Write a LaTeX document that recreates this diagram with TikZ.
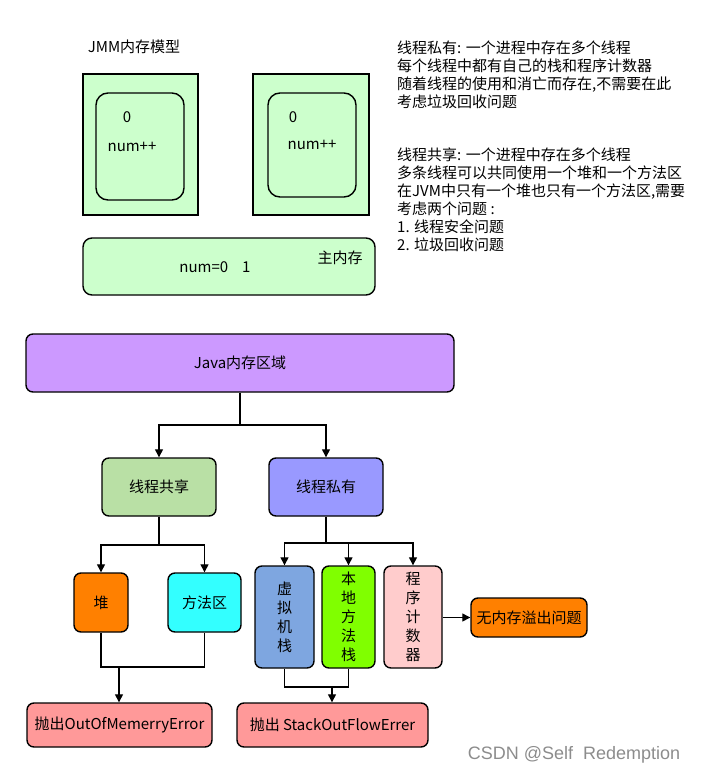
\documentclass[tikz,border=0pt]{standalone}
\usepackage{fontspec}
\setmainfont{Noto Sans CJK SC}
\newfontfamily\wmfont{Liberation Sans}
\usetikzlibrary{arrows.meta,positioning}

\definecolor{jmmgreen}{HTML}{CCFFCC}
\definecolor{sharegreen}{HTML}{B9E0A5}
\definecolor{privblue}{HTML}{9999FF}
\definecolor{areapurple}{HTML}{CC99FF}
\definecolor{heaporange}{HTML}{FF8000}
\definecolor{methodcyan}{HTML}{33FFFF}
\definecolor{vmblue}{HTML}{7EA6E0}
\definecolor{nativegreen}{HTML}{80FF00}
\definecolor{pcpink}{HTML}{FFCCCC}
\definecolor{errred}{HTML}{FF9999}

\tikzset{
  box/.style={draw, line width=1.4pt, rounded corners=7pt, inner sep=0pt,
    font=\fontsize{15}{19}\selectfont, align=center},
  thread/.style={draw, line width=1.4pt, fill=jmmgreen, inner sep=0pt},
  stackbox/.style={draw, line width=1.4pt, rounded corners=12pt, inner sep=0pt},
  txt/.style={inner sep=0pt, font=\fontsize{15}{18}\selectfont},
  link/.style={line width=1.3pt},
  arr/.style={line width=1.3pt, -{Triangle[length=8pt,width=8pt]}},
}

\begin{document}
\begin{tikzpicture}[x=1pt, y=-1pt]
  \useasboundingbox (0,0) rectangle (701,776);

  % JMM model
  \node[txt] (jmm) at (134,47) {JMM内存模型};
  \node[thread, minimum width=115pt, minimum height=141pt] (t1) at (140.5,144.5) {};
  \node[stackbox, minimum width=88pt, minimum height=107pt] (s1) at (140,146.5) {};
  \node[txt] (z1) at (127,117) {0};
  \node[txt] (n1) at (132,147) {num++};
  \node[thread, minimum width=116pt, minimum height=141pt] (t2) at (311,144.5) {};
  \node[stackbox, minimum width=88pt, minimum height=104pt] (s2) at (312,145) {};
  \node[txt] (z2) at (293,117) {0};
  \node[txt] (n2) at (312,145) {num++};
  \node[box, fill=jmmgreen, rounded corners=9pt, minimum width=292pt, minimum height=57pt] (mem) at (229,266.5) {};
  \node[txt] (numv) at (215,267) {num=0\hspace{14pt}1};
  \node[txt] (memlab) at (340,258) {主内存};

  % notes
  \node[txt, anchor=north west, align=left] (notepriv) at (397,41)
    {线程私有: 一个进程中存在多个线程\\
     每个线程中都有自己的栈和程序计数器\\
     随着线程的使用和消亡而存在,不需要在此\\
     考虑垃圾回收问题};
  \node[txt, anchor=north west, align=left] (noteshare) at (397,148)
    {线程共享: 一个进程中存在多个线程\\
     多条线程可以共同使用一个堆和一个方法区\\
     在JVM中只有一个堆也只有一个方法区,需要\\
     考虑两个问题 :\\
     1. 线程安全问题\\
     2. 垃圾回收问题};

  % Java memory areas
  \node[box, fill=areapurple, minimum width=428pt, minimum height=58pt] (java) at (240,363) {Java内存区域};
  \node[box, fill=sharegreen, minimum width=114pt, minimum height=58pt] (share) at (159,487) {线程共享};
  \node[box, fill=privblue, minimum width=114pt, minimum height=58pt] (priv) at (326,487) {线程私有};

  \node[box, fill=heaporange, minimum width=54pt, minimum height=59pt] (heap) at (101,602.5) {堆};
  \node[box, fill=methodcyan, minimum width=73pt, minimum height=59pt] (method) at (204.5,602.5) {方法区};
  \node[box, fill=errred, minimum width=185pt, minimum height=44pt] (oom) at (119.5,725) {抛出OutOfMemerryError};

  \node[box, fill=vmblue, minimum width=59pt, minimum height=102pt] (vm) at (284.5,617) {虚\\拟\\机\\栈};
  \node[box, fill=nativegreen, minimum width=53pt, minimum height=102pt] (native) at (348.5,617) {本\\地\\方\\法\\栈};
  \node[box, fill=pcpink, minimum width=58pt, minimum height=102pt] (pc) at (413,617) {程\\序\\计\\数\\器};
  \node[box, fill=heaporange, minimum width=116pt, minimum height=39pt] (nooom) at (529,617.5) {无内存溢出问题};
  \node[box, fill=errred, minimum width=191pt, minimum height=44pt] (soe) at (332.5,725) {抛出 StackOutFlowErrer};

  \coordinate (j1) at (240,425);
  \coordinate (sh1) at (159,545);
  \coordinate (pr1) at (326,543);
  \coordinate (hm1) at (119,667);
  \coordinate (vn1) at (332,687);

  % connectors
  \draw[arr] (java.south) -- (j1) -| (share.north);
  \draw[arr] (j1) -| (priv.north);
  \draw[link] (share.south) -- (sh1);
  \draw[arr] (sh1) -| (heap.north);
  \draw[arr] (sh1) -| (method.north);
  \draw[link] (heap.south) |- (hm1) -| (method.south);
  \draw[arr] (hm1) -- (oom.north -| hm1);
  \draw[link] (priv.south) -- (pr1);
  \draw[arr] (pr1) -| (vm.north);
  \draw[arr] (pr1) -| (native.north);
  \draw[arr] (pr1) -| (pc.north);
  \draw[arr] (pc.east |- nooom.west) -- (nooom.west);
  \draw[link] (vm.south) |- (vn1) -| (native.south);
  \draw[arr] (vn1) -- (soe.north -| vn1);

  \node[inner sep=0pt, text=black!45, font=\wmfont\fontsize{18}{20}\selectfont] (mark) at (574,755) {CSDN @Self\hspace{5pt} Redemption};
\end{tikzpicture}
\end{document}
